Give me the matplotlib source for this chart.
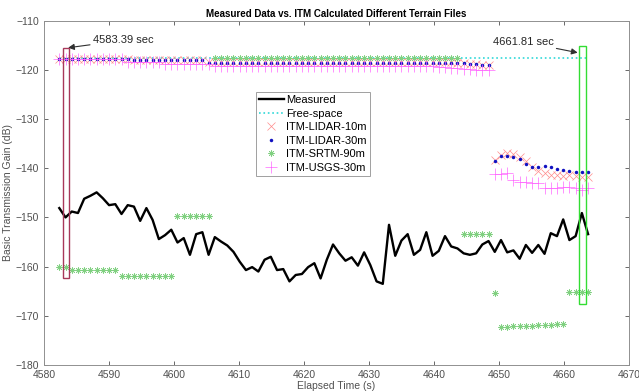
import numpy as np
import matplotlib
matplotlib.use('Agg')
import matplotlib.pyplot as plt
from matplotlib.patches import Rectangle

plt.rcParams['font.family'] = ['Liberation Sans', 'DejaVu Sans']

# ---- measured path loss (dB), one sample per ~0.96 s ----
measured = [
    -148.1, -150.0, -148.8, -149.1, -146.2, -145.6, -144.9, -146.1, -147.5, -147.3,
    -149.3, -147.5, -147.8, -150.7, -148.1, -150.5, -154.4, -153.6, -152.5, -155.1,
    -154.2, -157.6, -153.4, -153.0, -157.6, -154.0, -154.9, -155.7, -157.0, -159.0,
    -160.7, -160.1, -161.0, -158.6, -158.0, -160.7, -160.5, -163.0, -161.7, -161.5,
    -160.1, -159.3, -162.4, -158.6, -155.5, -157.3, -158.8, -158.1, -159.8, -157.1,
    -159.7, -163.0, -163.5, -151.5, -157.8, -154.7, -153.4, -157.6, -156.6, -153.0,
    -157.8, -156.8, -153.8, -155.9, -156.3, -157.3, -157.6, -157.3, -155.5, -154.8,
    -157.0, -154.6, -157.1, -156.7, -158.4, -155.6, -157.2, -155.6, -157.4, -153.2,
    -153.8, -150.4, -154.6, -153.8, -149.1, -153.4,
]
t_start, t_end = 4582.35, 4663.7
free_space = -117.6

# ---- ITM predictions, same time base ----
lidar_10m = ([-117.8] * 12 + [-117.9] * 6 + [-118.0] * 6 + [-118.4] * 40 +
             [-118.6, -118.7, -118.8, -118.9, -119.0, -119.1] +
             [-138.4, -137.3, -137.0, -137.2, -137.8, -138.6, -139.8, -140.6,
              -141.0, -141.3, -141.3, -141.5, -141.4, -141.6, -141.7, -141.8])
lidar_30m = ([-117.7] * 12 + [-117.9] * 6 + [-118.0] * 6 + [-118.5] * 40 +
             [-118.6, -118.7, -118.8, -118.9, -119.0, -119.1] +
             [-138.5, -137.5, -137.6, -137.7, -138.1, -139.1, -139.7, -139.7,
              -139.5, -139.7, -140.1, -140.4, -140.5, -140.8, -140.8, -140.8])
srtm_90m = ([-160.1] * 2 + [-160.7] * 8 + [-162.0] * 9 + [-149.8] * 6 +
            [-117.5] * 40 + [-153.4] * 5 + [-165.3] +
            [-172.2, -172.2, -172.1, -172.1, -172.0, -172.0, -171.9, -171.8,
             -171.8, -171.7, -171.7] + [-165.1] * 4)
usgs_30m = ([-117.8] * 11 + [-118.3] * 6 + [-118.9] * 8 + [-119.2] * 36 +
            [-119.4, -119.5, -119.6, -119.7, -119.8, -119.9, -120.0, -120.0, -120.0] +
            [-141.2, -141.1, -141.0, -142.4, -142.7, -142.8, -143.0, -143.0,
             -144.0, -144.0, -144.0, -143.9, -143.9, -144.0, -144.4, -144.1])

# highlighted windows around the two marked instants
win_a = dict(t0=4582.9, t1=4583.9, top=-115.6, bottom=-162.4, color='#a8385a')
win_b = dict(t0=4662.25, t1=4663.4, top=-115.1, bottom=-167.6, color='#33dd33')
label_a, label_b = '4583.39 sec', '4661.81 sec'

t = np.linspace(t_start, t_end, len(measured))

fig = plt.figure(figsize=(6.39, 3.92), dpi=100)
ax = fig.add_axes([0.0689, 0.0689, 0.9155, 0.8783])

ax.plot(t, measured, color='black', lw=1.7, label='Measured', zorder=3)
ax.plot(t, np.full_like(t, free_space), color='#30d8d8', lw=1.2, ls=':',
        label='Free-space', zorder=2)
ax.plot(t, lidar_10m, ls='none', marker='x', ms=6, mew=0.5,
        color='#ff8a8a', label='ITM-LIDAR-10m', zorder=2)
ax.plot(t, lidar_30m, ls='none', marker='o', ms=2.5, mew=0,
        color='#1010c0', label='ITM-LIDAR-30m', zorder=2)
ax.plot(t, srtm_90m, ls='none', marker=(8, 2, 0), ms=4.5, mew=0.5,
        color='#80d080', label='ITM-SRTM-90m', zorder=2)
ax.plot(t, usgs_30m, ls='none', marker='+', ms=8, mew=0.5,
        color='#ff66ff', label='ITM-USGS-30m', zorder=2)

for w in (win_a, win_b):
    ax.add_patch(Rectangle((w['t0'], w['bottom']), w['t1'] - w['t0'],
                           w['top'] - w['bottom'], fill=False,
                           ec=w['color'], lw=1.0, zorder=4))

arrow = dict(arrowstyle='-|>', color='#303030', lw=0.8, mutation_scale=9,
             shrinkA=0, shrinkB=0)
ax.annotate(label_a, xy=(4583.7, -115.5), xytext=(4587.5, -114.0),
            fontsize=8, color='#262626', va='center', ha='left',
            arrowprops=arrow)
ax.annotate(label_b, xy=(4662.1, -116.5), xytext=(4658.4, -114.3),
            fontsize=8, color='#262626', va='center', ha='right',
            arrowprops=arrow)

ax.set_xlim(4580, 4670)
ax.set_ylim(-180, -110)
ax.set_xticks(np.arange(4580, 4671, 10))
ax.set_yticks(np.arange(-180, -109, 10))
ax.tick_params(direction='in', length=3, width=0.6, labelsize=7.5,
               colors='#505050', top=True, right=True)
for s in ax.spines.values():
    s.set_color('#909090')
    s.set_linewidth(0.7)

ax.set_title('Measured Data vs. ITM Calculated Different Terrain Files',
             fontsize=7, fontweight='bold', pad=3)
ax.set_xlabel('Elapsed Time (s)', fontsize=7.5, color='#505050', labelpad=1)
ax.set_ylabel('Basic Transmission Gain (dB)', fontsize=7.5, color='#505050',
              labelpad=2)

leg = ax.legend(loc='upper left', bbox_to_anchor=(0.362, 0.794),
                borderaxespad=0, fontsize=8, handlelength=2.2,
                handletextpad=0.2, labelspacing=0.32, fancybox=False,
                framealpha=1, edgecolor='#a0a0a0', borderpad=0.3)
leg.get_frame().set_linewidth(0.7)

fig.savefig('out.png', dpi=100)
